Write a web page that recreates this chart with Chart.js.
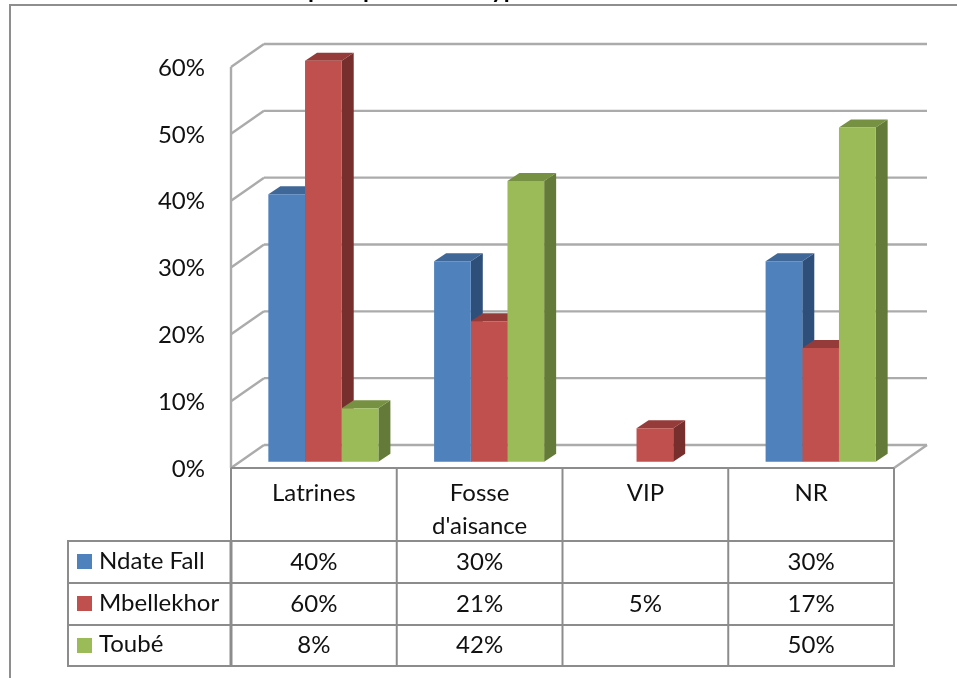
<!DOCTYPE html>
<html><head><meta charset="utf-8">
<style>html,body{margin:0;padding:0;background:#fff}canvas{display:block}</style>
<script src="https://cdn.jsdelivr.net/npm/chart.js@4"></script></head>
<body><canvas id="c" width="957" height="678"></canvas>
<script>
const categories = [["Latrines"], ["Fosse", "d'aisance"], ["VIP"], ["NR"]];
const seriesNames = ["Ndate Fall", "Mbellekhor", "Toubé"];
const ndateFall = [40, 30, null, 30];
const mbellekhor = [60, 21, 5, 17];
const toube = [8, 42, null, 50];
const yTicks = [0, 10, 20, 30, 40, 50, 60];
const frontColors = ["#4F81BD", "#C0504D", "#9BBB59"];
const topColors = ["#3F6797", "#953B39", "#769141"];
const sideColors = ["#2F4F7B", "#772F2D", "#647A38"];
const titleFragments = [["p", 308], ["p", 363], ["yp", 491]];

const LINE = "#8C8C8C", TEXT = "#111", FONT = "Lato, Carlito, sans-serif";
const FS = 24;
const DX = 33, DY = -23;       // wall depth
const BX = 9.5, BY = -6.3;     // bars offset from front plane
const DEPTH_X = 12, DEPTH_Y = -8; // bar depth
const ROWS = [541, 583, 625, 666];
const TABLE_LEFT = 68, KEY_X = 77, KEY_SIZE = 15, NAME_X = 99;
const series = [ndateFall, mbellekhor, toube];

function seg(ctx, x1, y1, x2, y2) { ctx.beginPath(); ctx.moveTo(x1, y1); ctx.lineTo(x2, y2); ctx.stroke(); }
function poly(ctx, pts, fill) {
  ctx.fillStyle = fill; ctx.beginPath();
  pts.forEach((p, i) => i ? ctx.lineTo(p[0], p[1]) : ctx.moveTo(p[0], p[1]));
  ctx.closePath(); ctx.fill();
}

const wall3d = {
  id: "wall3d",
  beforeDraw(chart) {
    const { ctx, chartArea: a } = chart, y = chart.scales.y;
    ctx.save();
    // outer frame
    ctx.strokeStyle = "#8E8E8E"; ctx.lineWidth = 2;
    seg(ctx, 10, 678, 10, 5); seg(ctx, 9, 5, 957, 5);
    // cropped title: only the descenders remain on the page
    ctx.fillStyle = "#000"; ctx.font = "bold 24px " + FONT; ctx.textAlign = "left"; ctx.textBaseline = "alphabetic";
    titleFragments.forEach(f => ctx.fillText(f[0], f[1], -2));
    // walls
    ctx.strokeStyle = "#ABABAB"; ctx.lineWidth = 2.4;
    yTicks.forEach(v => {
      const py = y.getPixelForValue(v);
      seg(ctx, a.left, py, a.left + DX, py + DY);
      seg(ctx, a.left + DX, py + DY, a.right + DX, py + DY);
    });
    seg(ctx, a.right, a.bottom, a.right + DX, a.bottom + DY);
    seg(ctx, a.left, a.top, a.left, a.bottom);
    ctx.restore();
  },
  beforeDatasetsDraw(chart) {
    const ctx = chart.ctx;
    ctx.save(); ctx.translate(BX, BY);
    series.forEach((vals, d) => {
      chart.getDatasetMeta(d).data.forEach((b, i) => {
        if (vals[i] === null) return;
        const L = b.x - b.width / 2, R = b.x + b.width / 2;
        poly(ctx, [[R, b.y], [R + DEPTH_X, b.y + DEPTH_Y], [R + DEPTH_X, b.base + DEPTH_Y], [R, b.base]], sideColors[d]);
        poly(ctx, [[L, b.y], [L + DEPTH_X, b.y + DEPTH_Y], [R + DEPTH_X, b.y + DEPTH_Y], [R, b.y]], topColors[d]);
      });
    });
  },
  afterDatasetsDraw(chart) { chart.ctx.restore(); },
  afterDraw(chart) {
    const { ctx, chartArea: a } = chart, x = chart.scales.x;
    ctx.save();
    ctx.strokeStyle = LINE; ctx.lineWidth = 2;
    const w = (a.right - a.left) / categories.length;
    // table lines
    seg(ctx, a.left, a.bottom, a.right, a.bottom);
    ROWS.forEach(r => seg(ctx, TABLE_LEFT - 1, r, a.right + 1, r));
    seg(ctx, TABLE_LEFT, ROWS[0], TABLE_LEFT, ROWS[3]);
    for (let i = 0; i <= categories.length; i++) {
      const px = a.left + i * w;
      seg(ctx, px, a.bottom, px, ROWS[3]);
    }
    ctx.lineWidth = 3; seg(ctx, a.left, ROWS[0], a.left, ROWS[3]);
    // rows
    ctx.font = FS + "px " + FONT; ctx.fillStyle = TEXT; ctx.textBaseline = "middle";
    series.forEach((vals, r) => {
      const cy = (ROWS[r] + ROWS[r + 1]) / 2;
      ctx.fillStyle = frontColors[r];
      ctx.fillRect(KEY_X, Math.round(cy) - 8, KEY_SIZE, KEY_SIZE);
      ctx.fillStyle = TEXT; ctx.textAlign = "left";
      ctx.fillText(seriesNames[r], NAME_X, cy - 1);
      ctx.textAlign = "center";
      vals.forEach((v, i) => {
        if (v !== null) ctx.fillText(v + "%", x.getPixelForValue(i), cy);
      });
    });
    ctx.restore();
  }
};

new Chart(document.getElementById("c"), {
  type: "bar",
  data: {
    labels: categories,
    datasets: series.map((vals, i) => ({
      label: seriesNames[i], data: vals, backgroundColor: frontColors[i],
      borderWidth: 0, clip: false,
      barPercentage: 1, categoryPercentage: 0.664
    }))
  },
  options: {
    responsive: false, animation: false, devicePixelRatio: 1,
    layout: { padding: { left: 0, right: 63, top: 67, bottom: 0 } },
    plugins: { legend: { display: false }, tooltip: { enabled: false }, title: { display: false } },
    scales: {
      x: {
        afterFit(s) { s.height = 210; },
        grid: { display: false, drawTicks: false }, border: { display: false },
        ticks: { color: TEXT, font: { family: FONT, size: FS, lineHeight: 1.38 }, padding: 9, maxRotation: 0, autoSkip: false }
      },
      y: {
        min: 0, max: 60,
        afterFit(s) { s.width = 231; },
        grid: { display: false, drawTicks: false }, border: { display: false },
        afterBuildTicks(s) { s.ticks = yTicks.map(v => ({ value: v })); },
        ticks: { color: TEXT, font: { family: FONT, size: FS }, padding: 26, labelOffset: 1, callback: v => v + "%" }
      }
    }
  },
  plugins: [wall3d]
});
</script></body></html>
